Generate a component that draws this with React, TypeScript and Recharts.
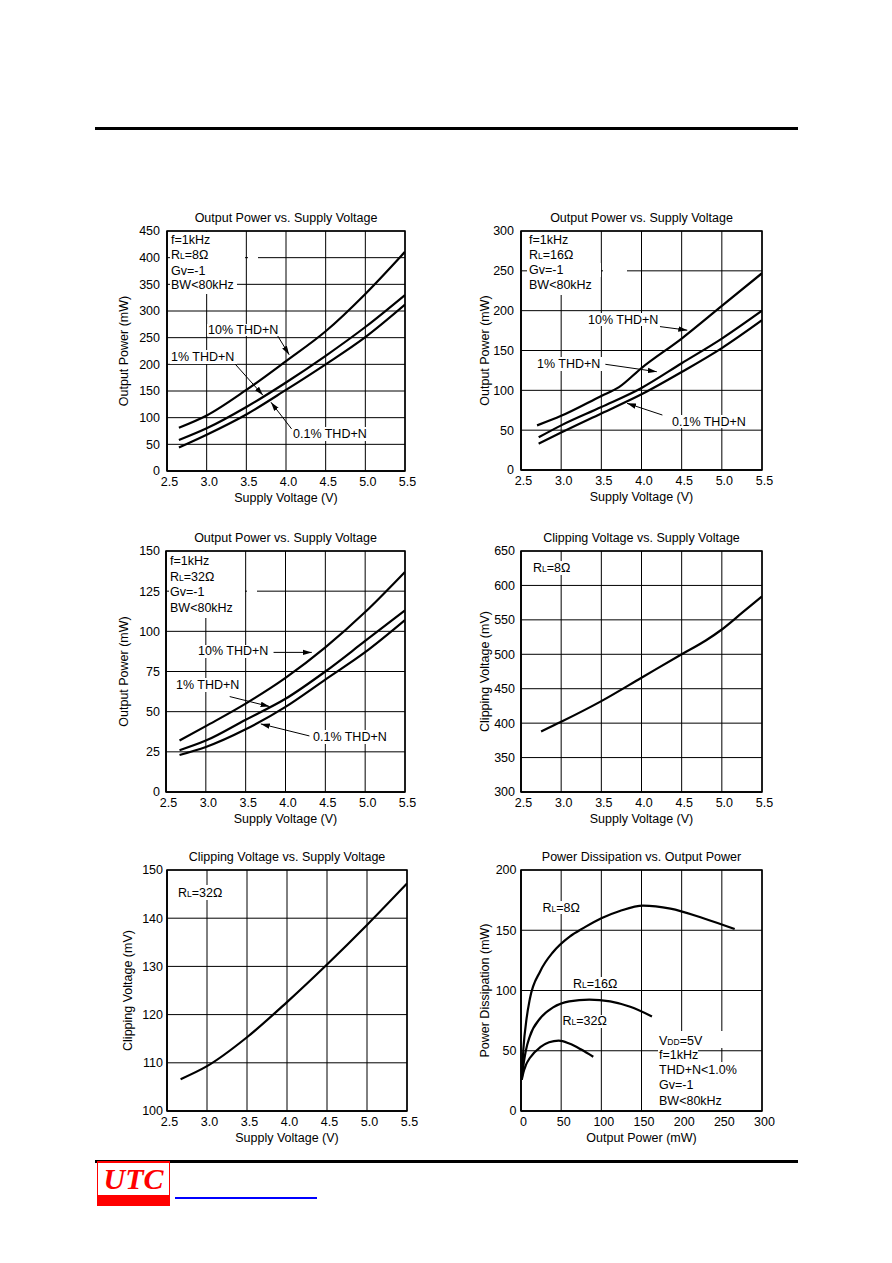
import React from 'react';
import { LineChart, Line, XAxis, YAxis, CartesianGrid, ReferenceLine, ReferenceArea } from 'recharts';

// ---------- Data ----------
// Chart 1: Output Power vs Supply Voltage, RL = 8 ohm
const supply8 = [2.65, 3.0, 3.5, 4.0, 4.5, 5.0, 5.5];
const p8Thd10 = [81, 104, 152, 206, 262, 332, 411];
const p8Thd1 = [58, 80, 120, 166, 216, 270, 330];
const p8Thd01 = [44, 68, 106, 152, 200, 251, 312];

// Chart 2: RL = 16 ohm
const supply16a = [2.7, 3.0, 3.5, 3.72, 4.0, 4.5, 5.0, 5.5];
const p16Thd10 = [56, 68, 93, 104, 128, 165, 206, 247];
const supply16 = [2.72, 3.0, 3.5, 4.0, 4.5, 5.0, 5.5];
const p16Thd1 = [41, 56, 79, 103, 134, 165, 200];
const p16Thd01 = [33, 47, 71, 95, 123, 153, 188];

// Chart 3: RL = 32 ohm
const supply32 = [2.67, 3.0, 3.5, 4.0, 4.5, 5.0, 5.5];
const p32Thd10 = [32, 41, 55, 71, 90, 112, 137];
const p32Thd1 = [26, 32, 45, 58, 75, 94, 113];
const p32Thd01 = [23, 28, 39, 53, 70, 87, 107];

// Chart 4: Clipping voltage, RL = 8 ohm
const clipSupply8 = [2.75, 3.0, 3.5, 4.0, 4.5, 4.8, 5.0, 5.25, 5.5];
const clipV8 = [388, 402, 432, 466, 500, 520, 536, 560, 584];

// Chart 5: Clipping voltage, RL = 32 ohm
const clipSupply32 = [2.67, 3.0, 3.5, 4.0, 4.5, 5.0, 5.5];
const clipV32 = [106.6, 109.3, 115.3, 122.6, 130.4, 138.6, 147.2];

// Chart 6: Power dissipation vs output power
const po8 = [0.8, 2.9, 7, 11, 24, 40, 61, 78, 100, 123, 152, 186, 227, 266];
const pd8 = [26, 51, 77, 93, 116, 132, 145, 152, 160, 166, 170.5, 168, 160, 151];
const po16 = [1, 3, 6, 11, 24, 40, 60, 85, 111, 136, 163];
const pd16 = [27, 38, 50, 62, 77, 86, 91, 92.5, 91, 86.5, 78.5];
const po32 = [1, 3, 6, 11, 24, 35, 47, 60, 75, 90];
const pd32 = [26, 32, 38, 44, 53, 57, 58.4, 56, 51, 45];

// Ticks
const supplyTicks = [2.5, 3.0, 3.5, 4.0, 4.5, 5.0, 5.5];
const p450Ticks = [0, 50, 100, 150, 200, 250, 300, 350, 400, 450];
const p300Ticks = [0, 50, 100, 150, 200, 250, 300];
const p150Ticks = [0, 25, 50, 75, 100, 125, 150];
const clip8Ticks = [300, 350, 400, 450, 500, 550, 600, 650];
const clip32Ticks = [100, 110, 120, 130, 140, 150];
const outPowerTicks = [0, 50, 100, 150, 200, 250, 300];
const dissTicks = [0, 50, 100, 150, 200];

const zip = (xs: number[], ys: number[]) => xs.map((x, i) => ({ x, y: ys[i] }));

const FONT = '"Liberation Sans", Arial, Helvetica, sans-serif';
const FS = 12.5;

type Arrow = { x1: number; y1: number; x2: number; y2: number };

type PanelProps = {
  L: number; T: number; W: number; H: number;
  yAxisW: number; yTickGap: number;
  xTicks: number[]; yTicks: number[];
  xFmt?: (v: number) => string;
  xLabel: string; yLabel: string; title: string;
  series: { x: number; y: number }[][];
  arrows?: Arrow[];
};

function Panel(p: PanelProps) {
  const mT = 10, mR = 14, xAxisH = 54;
  const xd = [p.xTicks[0], p.xTicks[p.xTicks.length - 1]];
  const yd = [p.yTicks[0], p.yTicks[p.yTicks.length - 1]];
  const tickStyle = { fontSize: FS, fontFamily: FONT, fill: '#000' };
  return (
    <>
      <div style={{ position: 'absolute', left: p.L - p.yAxisW, top: p.T - mT }}>
        <LineChart
          width={p.yAxisW + p.W + mR}
          height={mT + p.H + xAxisH}
          margin={{ top: mT, right: mR, left: 0, bottom: 0 }}
        >
          <CartesianGrid stroke="#000" strokeWidth={1} />
          <XAxis
            type="number" dataKey="x" domain={xd} ticks={p.xTicks} interval={0}
            allowDataOverflow tickFormatter={p.xFmt}
            height={xAxisH} tickLine={false} tickSize={3} tickMargin={3}
            axisLine={{ stroke: '#000', strokeWidth: 1.5 }} tick={{ ...tickStyle, dx: 2.5 }}
            label={{ value: p.xLabel, position: 'center', fontSize: FS, fontFamily: FONT, fill: '#000' }}
          />
          <YAxis
            type="number" domain={yd} ticks={p.yTicks} interval={0} allowDataOverflow
            width={p.yAxisW} tickLine={false} tickSize={p.yTickGap - 2} tickMargin={2}
            axisLine={{ stroke: '#000', strokeWidth: 1.5 }} tick={tickStyle}
            label={{ value: p.yLabel, angle: -90, position: 'center', fontSize: FS, fontFamily: FONT, fill: '#000' }}
          />
          <ReferenceArea x1={xd[0]} x2={xd[1]} y1={yd[0]} y2={yd[1]} fill="none" stroke="#000" strokeWidth={1.5} ifOverflow="visible" />
          {p.series.map((d, i) => (
            <Line key={i} data={d} dataKey="y" type="monotone" stroke="#000" strokeWidth={2.2}
              dot={false} activeDot={false} isAnimationActive={false} />
          ))}
          {(p.arrows || []).map((a, i) => (
            <ReferenceLine key={'a' + i} segment={[{ x: a.x1, y: a.y1 }, { x: a.x2, y: a.y2 }]}
              stroke="#000" strokeWidth={1} markerEnd="url(#arrowHead)" ifOverflow="visible" />
          ))}
        </LineChart>
      </div>
      <div style={{
        position: 'absolute', left: p.L, width: p.W, top: p.T - 21, height: 16, lineHeight: '16px',
        textAlign: 'center', fontSize: FS, fontFamily: FONT, color: '#000', whiteSpace: 'nowrap'
      }}>{p.title}</div>
    </>
  );
}

function WBox({ x, y, w, h }: { x: number; y: number; w: number; h: number }) {
  return <div style={{ position: 'absolute', left: x, top: y, width: w, height: h, background: '#fff' }} />;
}

function Txt({ x, y, children }: { x: number; y: number; children: React.ReactNode }) {
  return (
    <div style={{
      position: 'absolute', left: x, top: y - 8, height: 16, lineHeight: '16px',
      fontSize: FS, fontFamily: FONT, color: '#000', whiteSpace: 'nowrap'
    }}>{children}</div>
  );
}

const Sub = ({ children }: { children: React.ReactNode }) => (
  <span style={{ fontSize: 8.5 }}>{children}</span>
);
const RL = (v: string) => <>R<Sub>L</Sub>={v}Ω</>;

const fmt1 = (v: number) => v.toFixed(1);
const OUT_P = 'Output Power (mW)';
const SUPPLY = 'Supply Voltage (V)';
const T_OP = 'Output Power vs. Supply Voltage';
const T_CV = 'Clipping Voltage vs. Supply Voltage';

export default function App() {
  return (
    <div style={{ position: 'absolute', left: 0, top: 0, width: 892, height: 1263, background: '#fff', overflow: 'hidden' }}>
      <svg width={0} height={0} style={{ position: 'absolute' }}>
        <defs>
          <marker id="arrowHead" viewBox="0 0 10 6" refX="10" refY="3" markerWidth="9" markerHeight="6"
            markerUnits="userSpaceOnUse" orient="auto">
            <path d="M0,0 L10,3 L0,6 z" fill="#000" />
          </marker>
        </defs>
      </svg>

      {/* Page header rule */}
      <div style={{ position: 'absolute', left: 95, top: 127, width: 703, height: 3, background: '#000' }} />

      {/* Chart 1 */}
      <Panel L={167} T={231} W={238} H={240} yAxisW={86} yTickGap={7}
        xTicks={supplyTicks} yTicks={p450Ticks} xFmt={fmt1}
        xLabel={SUPPLY} yLabel={OUT_P} title={T_OP}
        series={[zip(supply8, p8Thd10), zip(supply8, p8Thd1), zip(supply8, p8Thd01)]}
        arrows={[
          { x1: 3.88, y1: 257, x2: 4.04, y2: 218 },
          { x1: 3.32, y1: 207, x2: 3.71, y2: 142 },
          { x1: 4.07, y1: 79, x2: 3.81, y2: 129 },
        ]}
      />
      <WBox x={170} y={232} w={67} h={62} />
      <WBox x={237} y={249} w={8} h={14} />
      <WBox x={247.5} y={255} w={10.5} h={5} />
      <Txt x={171} y={239.5}>f=1kHz</Txt>
      <Txt x={171} y={255}>{RL('8')}</Txt>
      <Txt x={171} y={270.5}>Gv=-1</Txt>
      <Txt x={171} y={285}>BW&lt;80kHz</Txt>
      <WBox x={207} y={324} w={72} h={12} />
      <Txt x={208} y={330}>10% THD+N</Txt>
      <WBox x={170} y={350} w={67} h={14} />
      <Txt x={171} y={357}>1% THD+N</Txt>
      <WBox x={292} y={427} w={80} h={14} />
      <Txt x={293} y={433.5}>0.1% THD+N</Txt>

      {/* Chart 2 */}
      <Panel L={521} T={231} W={241} H={239} yAxisW={73} yTickGap={7}
        xTicks={supplyTicks} yTicks={p300Ticks} xFmt={fmt1}
        xLabel={SUPPLY} yLabel={OUT_P} title={T_OP}
        series={[zip(supply16a, p16Thd10), zip(supply16, p16Thd1), zip(supply16, p16Thd01)]}
        arrows={[
          { x1: 4.23, y1: 180, x2: 4.57, y2: 175.5 },
          { x1: 3.55, y1: 132.7, x2: 4.19, y2: 123.4 },
          { x1: 4.26, y1: 69, x2: 3.82, y2: 83.7 },
        ]}
      />
      <WBox x={527} y={232} w={66} h={63} />
      <WBox x={593} y={263} w={7.5} h={14} />
      <WBox x={602.5} y={268} w={24} h={5} />
      <Txt x={529} y={239.7}>f=1kHz</Txt>
      <Txt x={529} y={254.7}>{RL('16')}</Txt>
      <Txt x={529} y={269.7}>Gv=-1</Txt>
      <Txt x={529} y={284.7}>BW&lt;80kHz</Txt>
      <WBox x={587} y={313} w={72} h={13} />
      <Txt x={588} y={319.5}>10% THD+N</Txt>
      <WBox x={536} y={357} w={67} h={14} />
      <Txt x={537} y={363.5}>1% THD+N</Txt>
      <WBox x={671} y={415} w={78} h={13} />
      <Txt x={672} y={421.5}>0.1% THD+N</Txt>

      {/* Chart 3 */}
      <Panel L={166} T={551} W={239} H={241} yAxisW={85} yTickGap={6}
        xTicks={supplyTicks} yTicks={p150Ticks} xFmt={fmt1}
        xLabel={SUPPLY} yLabel={OUT_P} title={T_OP}
        series={[zip(supply32, p32Thd10), zip(supply32, p32Thd1), zip(supply32, p32Thd01)]}
        arrows={[
          { x1: 3.85, y1: 86.9, x2: 4.33, y2: 86.9 },
          { x1: 3.3, y1: 59.4, x2: 3.8, y2: 53.2 },
          { x1: 4.3, y1: 34.9, x2: 3.69, y2: 42.4 },
        ]}
      />
      <WBox x={169} y={552} w={68} h={66} />
      <WBox x={237} y={585} w={7.5} h={13} />
      <WBox x={247} y={588} w={10} h={6} />
      <Txt x={170} y={561}>f=1kHz</Txt>
      <Txt x={170} y={576.5}>{RL('32')}</Txt>
      <Txt x={170} y={592}>Gv=-1</Txt>
      <Txt x={170} y={608}>BW&lt;80kHz</Txt>
      <WBox x={197} y={644.5} w={76} h={13} />
      <Txt x={198} y={651}>10% THD+N</Txt>
      <WBox x={175} y={677.5} w={66} h={14} />
      <Txt x={176} y={684.5}>1% THD+N</Txt>
      <WBox x={312} y={730} w={80} h={14} />
      <Txt x={313} y={737}>0.1% THD+N</Txt>

      {/* Chart 4 */}
      <Panel L={521} T={551} W={241} H={241} yAxisW={73} yTickGap={6}
        xTicks={supplyTicks} yTicks={clip8Ticks} xFmt={fmt1}
        xLabel={SUPPLY} yLabel="Clipping Voltage (mV)" title={T_CV}
        series={[zip(clipSupply8, clipV8)]}
      />
      <WBox x={532} y={561} w={41} h={14} />
      <Txt x={533} y={568}>{RL('8')}</Txt>

      {/* Chart 5 */}
      <Panel L={167} T={870} W={240} H={241} yAxisW={78} yTickGap={4}
        xTicks={supplyTicks} yTicks={clip32Ticks} xFmt={fmt1}
        xLabel={SUPPLY} yLabel="Clipping Voltage (mV)" title={T_CV}
        series={[zip(clipSupply32, clipV32)]}
      />
      <WBox x={177} y={885} w={49} h={15} />
      <Txt x={178} y={892.5}>{RL('32')}</Txt>

      {/* Chart 6 */}
      <Panel L={521} T={870} W={241} H={241} yAxisW={73} yTickGap={4.5}
        xTicks={outPowerTicks} yTicks={dissTicks}
        xLabel="Output Power (mW)" yLabel="Power Dissipation (mW)" title="Power Dissipation vs. Output Power"
        series={[zip(po8, pd8), zip(po16, pd16), zip(po32, pd32)]}
      />
      <WBox x={541} y={901} w={34} h={13} />
      <Txt x={542.5} y={907.5}>{RL('8')}</Txt>
      <WBox x={572} y={977} w={49} h={13} />
      <Txt x={573} y={983.5}>{RL('16')}</Txt>
      <WBox x={561.5} y={1014.5} w={44} h={13} />
      <Txt x={562.5} y={1021}>{RL('32')}</Txt>
      <WBox x={658} y={1031} w={85} h={17} />
      <WBox x={658} y={1048} w={40} h={14} />
      <WBox x={658} y={1062} w={85} h={48} />
      <Txt x={659} y={1040.7}>V<Sub>DD</Sub>=5V</Txt>
      <Txt x={659} y={1055}>f=1kHz</Txt>
      <Txt x={659} y={1070}>THD+N&lt;1.0%</Txt>
      <Txt x={659} y={1085}>Gv=-1</Txt>
      <Txt x={659} y={1100.5}>BW&lt;80kHz</Txt>

      {/* Footer */}
      <div style={{ position: 'absolute', left: 95, top: 1160, width: 703, height: 2.5, background: '#000' }} />
      <div style={{ position: 'absolute', left: 97, top: 1161, width: 73, height: 45, background: '#ff0000' }} />
      <div style={{
        position: 'absolute', left: 98, top: 1163, width: 71, height: 32, background: '#fff',
        color: '#ff0000', fontFamily: '"Liberation Serif", "Times New Roman", serif', fontWeight: 'bold',
        fontStyle: 'italic', fontSize: 30, lineHeight: '32px', textAlign: 'center'
      }}>UTC</div>
      <div style={{ position: 'absolute', left: 175, top: 1196.5, width: 142, height: 2, background: '#0000ff' }} />
    </div>
  );
}
